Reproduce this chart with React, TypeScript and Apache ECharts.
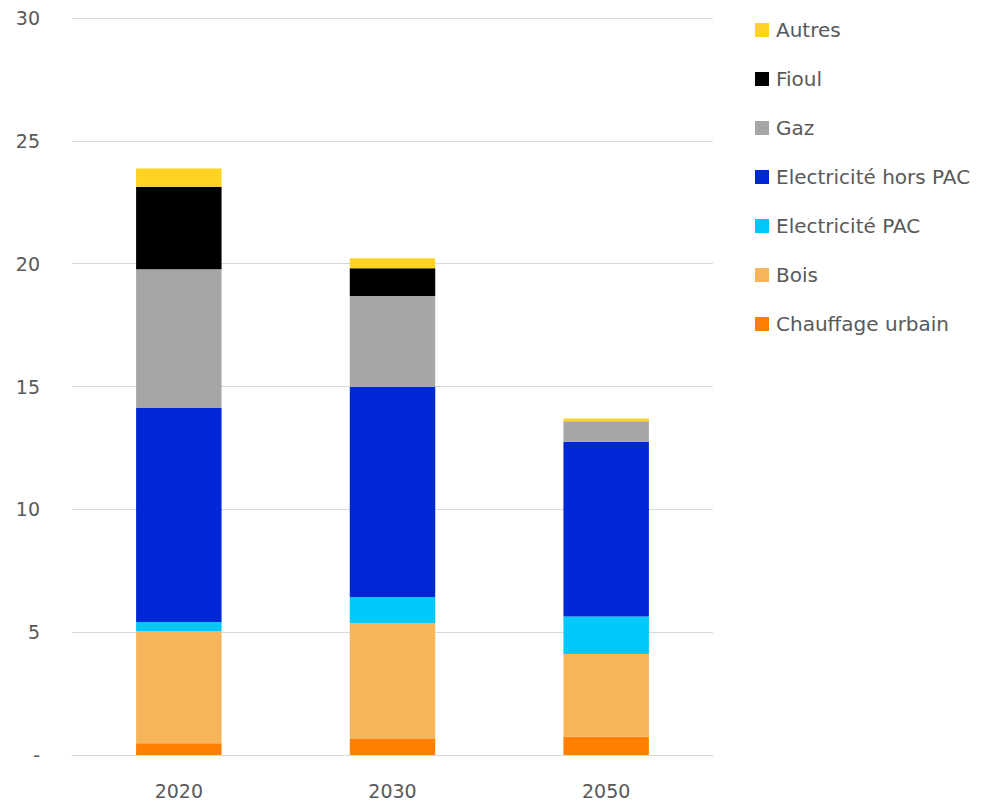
import React, { useEffect, useRef } from "react";
import * as echarts from "echarts";

const categories = ["2020", "2030", "2050"];
const chauffageUrbain = [0.48, 0.65, 0.74];
const bois = [4.57, 4.71, 3.37];
const electricitePAC = [0.36, 1.07, 1.53];
const electriciteHorsPAC = [8.71, 8.56, 7.11];
const gaz = [5.65, 3.69, 0.84];
const fioul = [3.36, 1.13, 0];
const autres = [0.74, 0.41, 0.11];
const yTickLabels: Record<number, string> = { 0: "-", 5: "5", 10: "10", 15: "15", 20: "20", 25: "25", 30: "30" };

const FONT = "'DejaVu Sans', sans-serif";
const TEXT = "#595959";

export default function App() {
  const ref = useRef<HTMLDivElement>(null);
  useEffect(() => {
    if (!ref.current) return;
    const chart = echarts.init(ref.current, undefined, { renderer: "svg" });
    const seriesDefs = [
      { name: "Chauffage urbain", data: chauffageUrbain, color: "#FF8000" },
      { name: "Bois", data: bois, color: "#F6B55A" },
      { name: "Electricité PAC", data: electricitePAC, color: "#00C8FA" },
      { name: "Electricité hors PAC", data: electriciteHorsPAC, color: "#0027D6" },
      { name: "Gaz", data: gaz, color: "#A6A6A6" },
      { name: "Fioul", data: fioul, color: "#000000" },
      { name: "Autres", data: autres, color: "#FFD320" },
    ];
    chart.setOption({
      animation: false,
      textStyle: { fontFamily: FONT },
      grid: { left: 72, right: 286, top: 18, bottom: 52 },
      legend: {
        orient: "vertical",
        left: 750,
        top: 15,
        itemWidth: 14,
        itemHeight: 14,
        itemGap: 29,
        icon: "rect",
        data: [...seriesDefs].reverse().map((s) => s.name),
        textStyle: { fontFamily: FONT, fontSize: 20, color: TEXT, lineHeight: 20, padding: [0, 0, 0, 2] },
      },
      xAxis: {
        type: "category",
        data: categories,
        axisTick: { show: false },
        axisLine: { lineStyle: { color: "#D9D9D9", width: 1 } },
        axisLabel: { fontFamily: FONT, fontSize: 19, color: TEXT, margin: 26 },
      },
      yAxis: {
        type: "value",
        min: 0,
        max: 30,
        interval: 5,
        axisLine: { show: false },
        axisTick: { show: false },
        splitLine: { lineStyle: { color: "#D9D9D9", width: 1 } },
        axisLabel: {
          fontFamily: FONT,
          fontSize: 19,
          color: TEXT,
          margin: 32,
          formatter: (v: number) => yTickLabels[v] ?? String(v),
        },
      },
      series: seriesDefs.map((s) => ({
        name: s.name,
        type: "bar",
        stack: "total",
        barWidth: "40%",
        data: s.data,
        itemStyle: { color: s.color },
      })),
    });
    return () => chart.dispose();
  }, []);
  return <div ref={ref} style={{ width: 999, height: 807, margin: -8 }} />;
}
